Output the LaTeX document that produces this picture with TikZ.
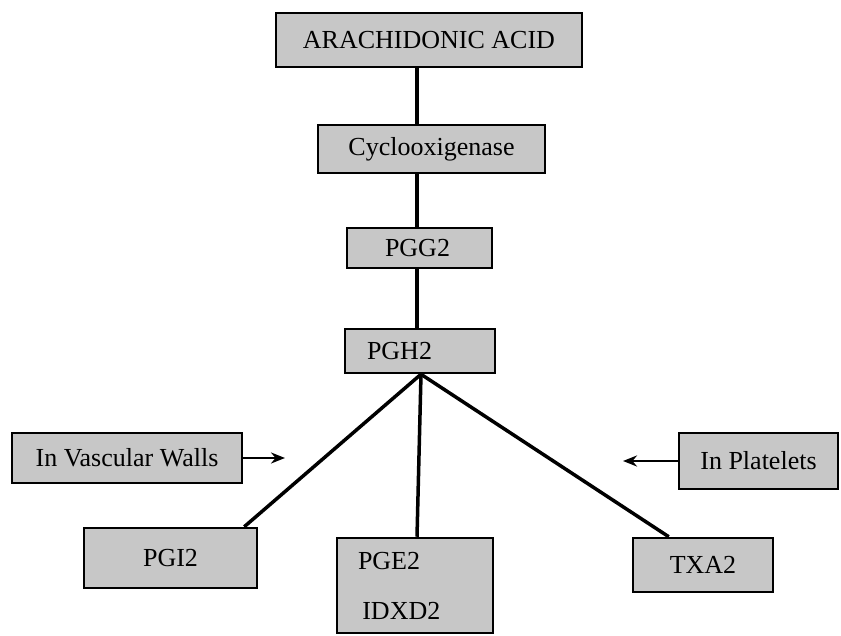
\documentclass[tikz,border=0pt]{standalone}
\usepackage{fontspec}
\setmainfont{Liberation Serif}
\usetikzlibrary{arrows.meta,calc}

\begin{document}
\begin{tikzpicture}[x=1pt,y=-1pt,
    every node/.style={font=\fontsize{26}{30}\selectfont},
    box/.style={draw,line width=2.5pt,fill=black!22,inner sep=0pt},
    link/.style={line width=3.5pt},
    pointer/.style={line width=2.5pt,-{Stealth[length=14pt,width=11pt]}}]
    \fill[white] (0,0) rectangle (841,635);
    \useasboundingbox (0,0) rectangle (841,635);
    % main chain
    \node[box,minimum width=306,minimum height=54] (acid) at (429,40) {ARACHIDONIC ACID};
    \node[box,minimum width=227,minimum height=48] (cox) at (431.5,149) {Cyclooxigenase};
    \node[box,minimum height=40,text width=69pt,inner xsep=38pt,align=left] (pgg2) at (419.5,248) {PGG2};
    \node[box,minimum height=44,text width=106pt,inner xsep=22pt,align=left] (pgh2) at (420,351) {PGH2};
    % side labels
    \node[box,minimum width=230,minimum height=50] (walls) at (127,458) {In Vascular Walls};
    \node[box,minimum width=159,minimum height=56] (platelets) at (758.5,461) {In Platelets};
    % products
    \node[box,minimum width=173,minimum height=60] (pgi2) at (170.5,558) {PGI2};
    \node[box,minimum height=95,text width=114pt,inner xsep=21pt,align=left] (pge2) at (415,585.5)
      {PGE2\\[20pt]\,IDXD2};
    \node[box,minimum width=140,minimum height=54] (txa2) at (703,565) {TXA2};

    \coordinate (stem) at (417,0);
    \draw[link] (stem |- acid.south) -- (stem |- cox.north);
    \draw[link] (stem |- cox.south) -- (stem |- pgg2.north);
    \draw[link] (stem |- pgg2.south) -- (stem |- pgh2.north);

    \coordinate (fork) at ($(pgh2.south)+(1,0)$);
    \draw[link] (fork) -- ($(pgi2.north east)+(-14,0)$);
    \draw[link] (fork) -- ($(pge2.north)+(2,0)$);
    \draw[link] (fork) -- ($(txa2.north west)+(37,0)$);

    \coordinate (wallsTip) at (285,458);
    \coordinate (plateletsTip) at (623,461);
    \draw[pointer] (walls.east) -- (wallsTip);
    \draw[pointer] (platelets.west) -- (plateletsTip);
\end{tikzpicture}
\end{document}
